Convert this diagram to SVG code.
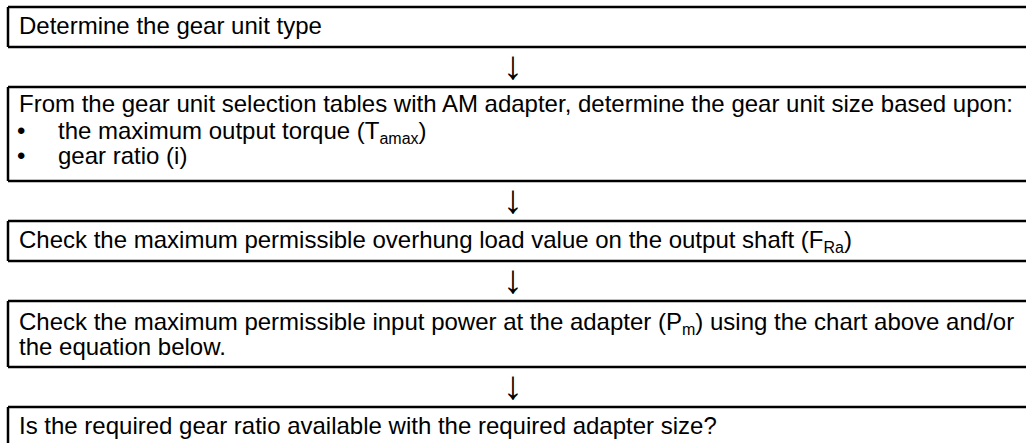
<svg xmlns="http://www.w3.org/2000/svg" width="1026" height="443" viewBox="0 0 1026 443">
<style>
.ln{stroke:#000;stroke-width:2.5;fill:none}
.t{font-family:"Liberation Sans",Arial,sans-serif;font-size:24px;fill:#000}
.s{font-size:16px}
.ar{font-family:"Liberation Sans",Arial,sans-serif;font-size:40px;fill:#000;text-anchor:middle}
</style>
<rect width="1026" height="443" fill="#fff"/>
<g id="step1">
<path class="ln" d="M8,7 H1026 M8,7 V47 M8,47 H1026"/>
<text class="t" x="19" y="34">Determine the gear unit type</text>
</g>
<g id="step2">
<path class="ln" d="M8,87 H1026 M8,87 V181 M8,181 H1026"/>
<text class="t" x="19" y="112">From the gear unit selection tables with AM adapter, determine the gear unit size based upon:</text>
<text class="t" x="17" y="139">•</text>
<text class="t" x="58" y="139">the maximum output torque (T<tspan class="s" dy="5">amax</tspan><tspan dy="-5">)</tspan></text>
<text class="t" x="17" y="164">•</text>
<text class="t" x="58" y="164">gear ratio (i)</text>
</g>
<g id="step3">
<path class="ln" d="M8,221 H1026 M8,221 V261 M8,261 H1026"/>
<text class="t" x="19" y="248">Check the maximum permissible overhung load value on the output shaft (F<tspan class="s" dy="5">Ra</tspan><tspan dy="-5">)</tspan></text>
</g>
<g id="step4">
<path class="ln" d="M8,301 H1026 M8,301 V367 M8,367 H1026"/>
<text class="t" x="19" y="330">Check the maximum permissible input power at the adapter (P<tspan class="s" dy="5">m</tspan><tspan dy="-5">) using the chart above and/or</tspan></text>
<text class="t" x="19" y="355">the equation below.</text>
</g>
<g id="step5">
<path class="ln" d="M8,407 H1026 M8,407 V443"/>
<text class="t" x="19" y="434">Is the required gear ratio available with the required adapter size?</text>
</g>
<g id="connectors">
<text class="ar" x="513" y="79">↓</text>
<text class="ar" x="513" y="213">↓</text>
<text class="ar" x="513" y="293">↓</text>
<text class="ar" x="513" y="399">↓</text>
</g>
</svg>
